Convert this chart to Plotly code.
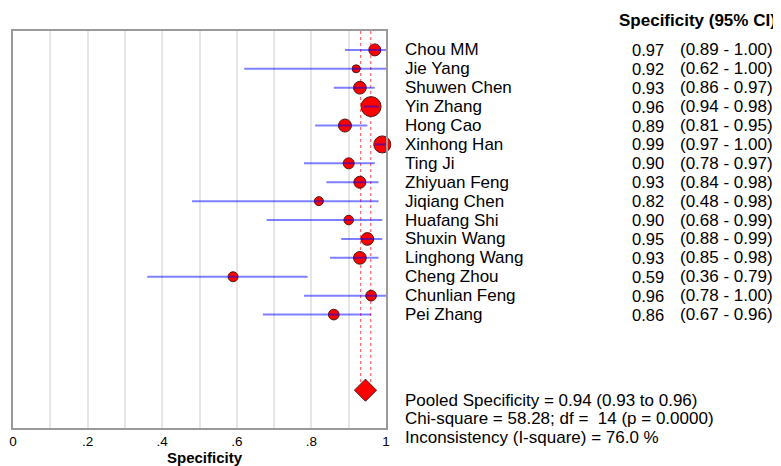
import plotly.graph_objects as go

# ---------------- data ----------------
studies = ["Chou MM", "Jie Yang", "Shuwen Chen", "Yin Zhang", "Hong Cao",
           "Xinhong Han", "Ting Ji", "Zhiyuan Feng", "Jiqiang Chen", "Huafang Shi",
           "Shuxin Wang", "Linghong Wang", "Cheng Zhou", "Chunlian Feng", "Pei Zhang"]
spec = [0.97, 0.92, 0.93, 0.96, 0.89, 0.99, 0.90, 0.93, 0.82, 0.90,
        0.95, 0.93, 0.59, 0.96, 0.86]
ci_lo = [0.89, 0.62, 0.86, 0.94, 0.81, 0.97, 0.78, 0.84, 0.48, 0.68,
         0.88, 0.85, 0.36, 0.78, 0.67]
ci_hi = [1.00, 1.00, 0.97, 0.98, 0.95, 1.00, 0.97, 0.98, 0.98, 0.99,
         0.99, 0.98, 0.79, 1.00, 0.96]
# relative study weights
study_weight = [12, 8, 12.7, 20, 13, 17, 11, 12, 9, 9.5, 12.7, 12.7, 10, 10.7, 10.7]

pooled_est = 0.945
pooled_lo = 0.932
pooled_hi = 0.959
pooled_text = "Pooled Specificity = 0.94 (0.93 to 0.96)"
chi_text = "Chi-square = 58.28; df =  14 (p = 0.0000)"
incons_text = "Inconsistency (I-square) = 76.0 %"
header_text = "Specificity (95% CI)"
axis_title = "Specificity"
tick_vals = [0, 0.1, 0.2, 0.3, 0.4, 0.5, 0.6, 0.7, 0.8, 0.9, 1.0]
tick_text = ["0", "", ".2", "", ".4", "", ".6", "", ".8", "", "1"]

# ---------------- layout geometry ----------------
OFF = 8  # page body margin
W, H = 781 - OFF, 466 - OFF
L, R, T, B = 13 - OFF, 386 - OFF, 31 - OFF, 428 - OFF
N_ROWS = 21  # rows -1 .. 20
POOLED_ROW = 18
FONT = "Liberation Sans, Arial, sans-serif"


def xp(px):
    return (px - OFF - L) / (R - L)


def yp_pix(py):
    return (B - (py - OFF)) / (B - T)


def yp_row(r):
    py = T + (r + 1) * (B - T) / N_ROWS
    return (B - py) / (B - T)


rows = list(range(len(studies)))

fig = go.Figure()

# pooled CI dashed lines
for v in (pooled_lo, pooled_hi):
    fig.add_trace(go.Scatter(x=[v, v], y=[-1, POOLED_ROW], mode="lines",
                             line=dict(color="rgba(255,0,0,0.6)", width=1.2, dash="dot"),
                             hoverinfo="skip", showlegend=False))

# study markers
fig.add_trace(go.Scatter(
    x=spec, y=rows, mode="markers",
    marker=dict(size=study_weight, color="#ff0000", opacity=1,
                line=dict(color="#4a1a1a", width=1)),
    cliponaxis=False, showlegend=False))

# CI lines (drawn over markers)
for lo, hi, r in zip(ci_lo, ci_hi, rows):
    fig.add_trace(go.Scatter(x=[lo, hi], y=[r, r], mode="lines",
                             line=dict(color="rgba(0,0,255,0.5)", width=2),
                             showlegend=False, hoverinfo="skip"))

# pooled diamond
fig.add_trace(go.Scatter(x=[pooled_est], y=[POOLED_ROW], mode="markers",
                         marker=dict(symbol="diamond", size=17, color="#ff0000", opacity=1,
                                     line=dict(color="#4a1a1a", width=1)),
                         cliponaxis=False, showlegend=False))

ann = []
for name, s, lo, hi, r in zip(studies, spec, ci_lo, ci_hi, rows):
    y = yp_row(r)
    ann.append(dict(x=xp(403), y=y, xref="paper", yref="paper", text=name, showarrow=False,
                    xanchor="left", yanchor="middle", font=dict(size=17)))
    ann.append(dict(x=xp(666), y=y, xref="paper", yref="paper", text=f"{s:.2f}", showarrow=False,
                    xanchor="right", yanchor="middle", font=dict(size=16.5)))
    ann.append(dict(x=xp(678), y=y, xref="paper", yref="paper", text=f"({lo:.2f} - {hi:.2f})",
                    showarrow=False, xanchor="left", yanchor="middle", font=dict(size=17)))

ann.append(dict(x=xp(617), y=yp_pix(20), xref="paper", yref="paper",
                text=f"<b>{header_text}</b>",
                showarrow=False, xanchor="left", yanchor="middle", font=dict(size=17)))
for txt, py in ((pooled_text, 400), (chi_text, 418.5), (incons_text, 437)):
    ann.append(dict(x=xp(403), y=yp_pix(py), xref="paper", yref="paper", text=txt,
                    showarrow=False, xanchor="left", yanchor="middle", font=dict(size=17)))
ann.append(dict(x=xp(205), y=yp_pix(457), xref="paper", yref="paper",
                text=f"<b>{axis_title}</b>",
                showarrow=False, xanchor="center", yanchor="middle", font=dict(size=15)))

fig.update_layout(
    width=W, height=H,
    margin=dict(l=L, r=W - R, t=T, b=H - B, pad=0, autoexpand=False),
    paper_bgcolor="white", plot_bgcolor="white",
    font=dict(family=FONT, color="black", size=17),
    xaxis=dict(range=[0, 1], tickvals=tick_vals, ticktext=tick_text,
               showgrid=True, gridcolor="#e6e6e6", gridwidth=1.5,
               showline=True, mirror=True, linecolor="#9a9a9a", linewidth=2,
               zeroline=False, ticks="", tickfont=dict(size=13.5), automargin=False),
    yaxis=dict(range=[20, -1], showgrid=False, showticklabels=False,
               showline=True, mirror=True, linecolor="#9a9a9a", linewidth=2,
               zeroline=False, ticks="", automargin=False),
    annotations=ann,
)

fig.write_html("out.html")
